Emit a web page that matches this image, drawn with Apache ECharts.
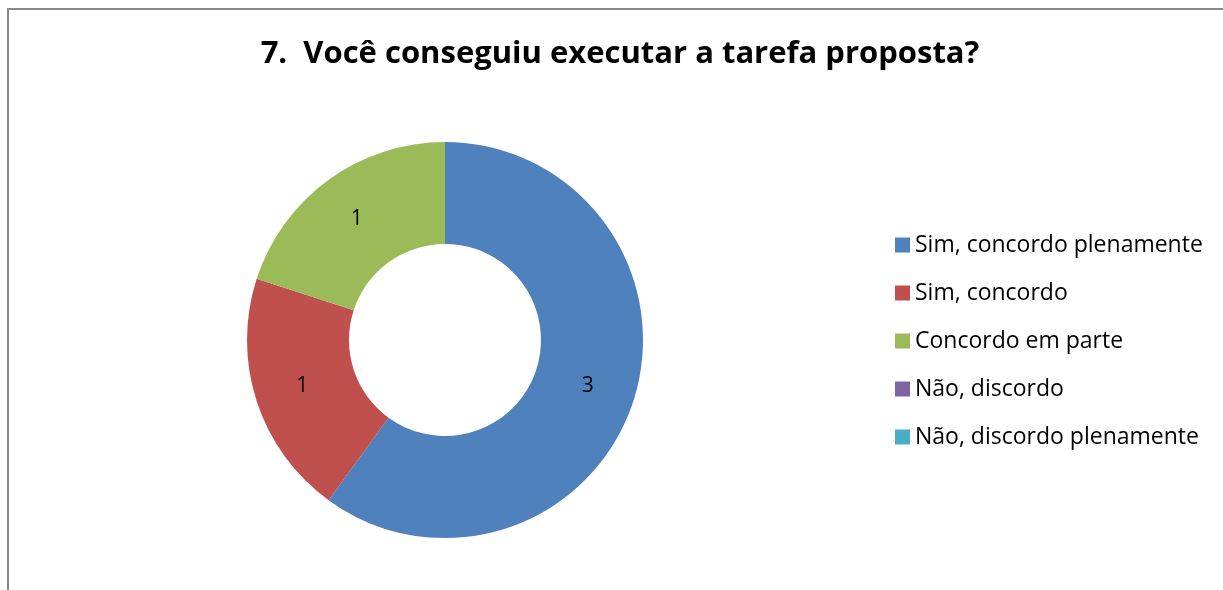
<!DOCTYPE html>
<html>
<head>
<meta charset="utf-8">
<script src="https://cdn.jsdelivr.net/npm/echarts@6/dist/echarts.min.js"></script>
<style>
  html, body { margin: 0; padding: 0; background: #fff; }
  #chart { width: 1223px; height: 590px; }
</style>
</head>
<body>
<div id="chart"></div>
<script>
// Survey answers for question 7
const titleText = '7.  Você conseguiu executar a tarefa proposta?';
const categories = [
  'Sim, concordo plenamente',
  'Sim, concordo',
  'Concordo em parte',
  'Não, discordo',
  'Não, discordo plenamente'
];
const counts = [3, 1, 1, 0, 0];
const colors = ['#4F81BD', '#C0504D', '#9BBB59', '#8064A2', '#4BACC6'];

const chart = echarts.init(document.getElementById('chart'), null, { renderer: 'canvas' });

chart.setOption({
  animation: false,
  backgroundColor: '#fff',
  color: colors,
  graphic: [{
    type: 'rect',
    shape: { x: 8, y: 9, width: 1400, height: 800 },
    style: { fill: 'none', stroke: '#888', lineWidth: 2 },
    silent: true
  }],
  title: {
    text: titleText,
    left: 620,
    top: 39,
    padding: 0,
    textAlign: 'center',
    textStyle: {
      fontFamily: '"Open Sans", sans-serif',
      fontWeight: 'bold',
      fontSize: 31,
      color: '#000'
    }
  },
  legend: {
    orient: 'vertical',
    left: 895,
    top: 233,
    padding: 0,
    itemWidth: 15,
    itemHeight: 15,
    itemGap: 24,
    icon: 'rect',
    data: categories,
    textStyle: {
      fontFamily: '"Open Sans", sans-serif',
      fontSize: 23,
      lineHeight: 24,
      color: '#000'
    }
  },
  series: [{
    type: 'pie',
    center: [445, 340],
    radius: [96, 198],
    startAngle: 90,
    clockwise: true,
    avoidLabelOverlap: false,
    itemStyle: { borderWidth: 0 },
    label: {
      show: true,
      position: 'inside',
      formatter: p => (p.value ? String(p.value) : ''),
      color: '#000',
      fontFamily: '"Open Sans", sans-serif',
      fontSize: 21
    },
    labelLine: { show: false },
    emphasis: { disabled: true },
    data: categories.map((name, i) => ({ name, value: counts[i] }))
  }]
});
</script>
</body>
</html>
